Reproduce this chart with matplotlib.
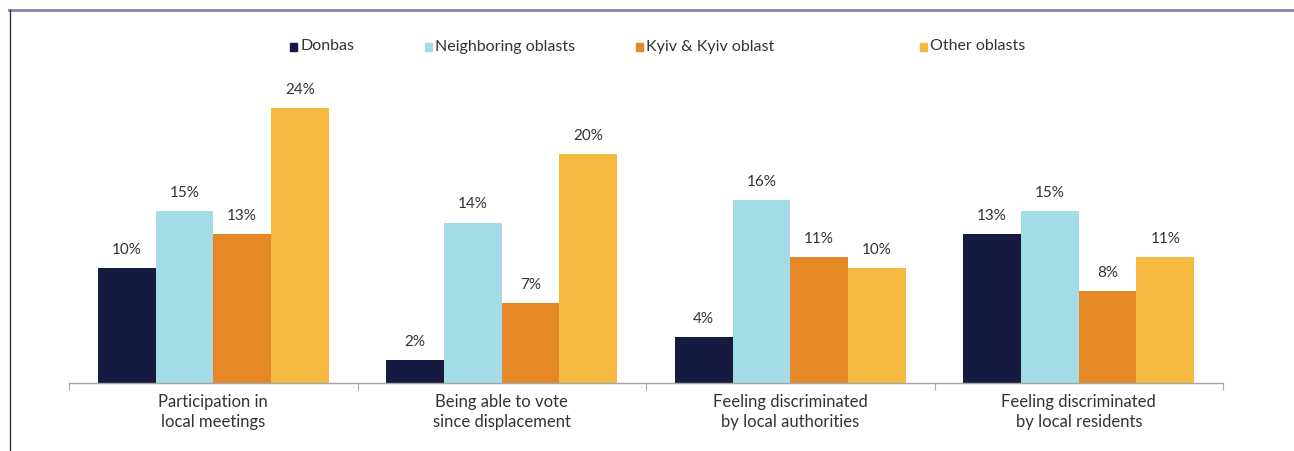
import matplotlib.pyplot as plt
from matplotlib.lines import Line2D
from matplotlib.patches import Rectangle
import numpy as np

plt.rcParams['font.family'] = ['Lato', 'DejaVu Sans']

categories = ['Participation in\nlocal meetings',
              'Being able to vote\nsince displacement',
              'Feeling discriminated\nby local authorities',
              'Feeling discriminated\nby local residents']
series = ['Donbas', 'Neighboring oblasts', 'Kyiv & Kyiv oblast', 'Other oblasts']
donbas = [10, 2, 4, 13]
neighboring = [15, 14, 16, 15]
kyiv = [13, 7, 11, 8]
other = [24, 20, 10, 11]
colors = ['#151a40', '#a3dbe7', '#e68825', '#f6b940']

values = [donbas, neighboring, kyiv, other]
text_col = '#333333'

fig = plt.figure(figsize=(12.94, 4.51), dpi=100)
ax = fig.add_axes([69 / 1294, 1 - 383 / 451, (1223 - 69) / 1294, 275 / 24 * 26 / 451])

x = np.arange(len(categories))
w = 0.2
for i, (vals, c) in enumerate(zip(values, colors)):
    pos = x - 0.3 + i * w
    ax.bar(pos, vals, width=w, color=c, edgecolor='none', label=series[i])
    for p, v in zip(pos, vals):
        ax.annotate(f'{v}%', (p, v), xytext=(0, 8), textcoords='offset points',
                    ha='center', va='bottom', fontsize=11, color=text_col)

ax.set_xlim(-0.5, len(categories) - 0.5)
ax.set_ylim(0, 26)
ax.set_yticks([])
for s in ['top', 'right', 'left']:
    ax.spines[s].set_visible(False)
ax.spines['bottom'].set_color('#a6a6a6')
ax.spines['bottom'].set_linewidth(1)

ax.set_xticks(np.arange(-0.5, len(categories), 1))
ax.set_xticklabels([])
ax.tick_params(axis='x', length=5, color='#a6a6a6', direction='out')
for xi, lab in zip(x, categories):
    ax.text(xi, -1.0, lab, ha='center', va='top', fontsize=12, color=text_col,
            linespacing=1.25, transform=ax.transData)

# legend drawn in figure coordinates
leg_x = [290, 425, 636, 920]
leg_y = 46.5
for lx, name, c in zip(leg_x, series, colors):
    fig.patches.append(Rectangle((lx / 1294, 1 - (leg_y + 4) / 451), 7 / 1294, 8 / 451,
                                 transform=fig.transFigure, color=c))
    fig.text((lx + 10) / 1294, 1 - leg_y / 451, name, ha='left', va='center',
             fontsize=11.5, color=text_col)

# frame lines
fig.add_artist(Line2D([8.5 / 1294, 1], [1 - 9.5 / 451, 1 - 9.5 / 451],
                      transform=fig.transFigure, color='#7f86a0', lw=2))
fig.add_artist(Line2D([9.5 / 1294, 9.5 / 1294], [0, 1 - 9.5 / 451],
                      transform=fig.transFigure, color='#2a3050', lw=1))

fig.savefig('out.png', dpi=100)
